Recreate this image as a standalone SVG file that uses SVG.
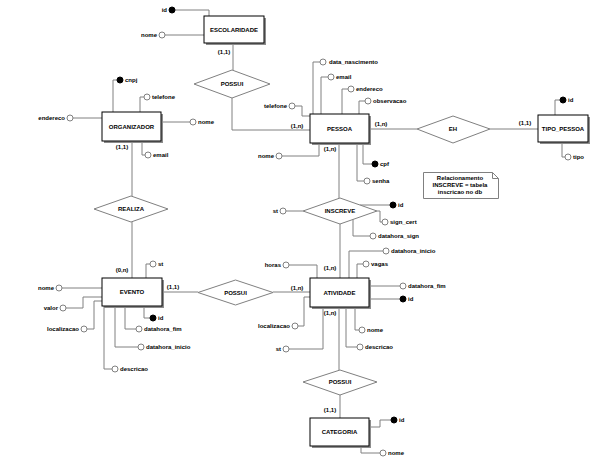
<svg xmlns="http://www.w3.org/2000/svg" width="601" height="458" viewBox="0 0 601 458">
<style>
text{font-family:"Liberation Sans",Arial,sans-serif;font-size:6px;font-weight:bold;fill:#000}
.m{text-anchor:middle}
.e{text-anchor:end}
.c{fill:none;stroke:#808080;stroke-width:1}
.sh{fill:#8c8c8c;stroke:none}
.bx{fill:#fff;stroke:#000;stroke-width:1}
.dm{fill:#fff;stroke:#808080;stroke-width:1}
.o{fill:#fff;stroke:#808080;stroke-width:1}
.f{fill:#000;stroke:#000;stroke-width:1}
</style>
<rect width="601" height="458" fill="#fff"/>
<g id="connectors">
<!-- ESCOLARIDADE -->
<polyline class="c" points="175,10 209,10 209,16"/>
<line class="c" x1="165" y1="35" x2="204" y2="35"/>
<line class="c" x1="233" y1="43" x2="233" y2="70"/>
<polyline class="c" points="232,98 232,130 310,130"/>
<!-- ORGANIZADOR -->
<polyline class="c" points="117,80 113,80 113,112"/>
<polyline class="c" points="144,97 140,97 140,112"/>
<line class="c" x1="73" y1="118" x2="102" y2="118"/>
<line class="c" x1="161" y1="122" x2="190" y2="122"/>
<polyline class="c" points="142,141 142,155 145,155"/>
<line class="c" x1="132" y1="141" x2="132" y2="196"/>
<line class="c" x1="132" y1="222" x2="132" y2="278"/>
<!-- PESSOA -->
<polyline class="c" points="320,62 313,62 313,114"/>
<polyline class="c" points="328,77 321,77 321,114"/>
<polyline class="c" points="348,89 342,89 342,114"/>
<polyline class="c" points="365,101 359,101 359,114"/>
<polyline class="c" points="295,106 302,106 302,116 310,116"/>
<polyline class="c" points="282,156 319,156 319,143"/>
<polyline class="c" points="363,143 363,164 372,164"/>
<polyline class="c" points="357,143 357,181 364,181"/>
<line class="c" x1="369" y1="129" x2="417" y2="129"/>
<line class="c" x1="490" y1="129" x2="538" y2="129"/>
<line class="c" x1="339" y1="143" x2="339" y2="198"/>
<!-- TIPO_PESSOA -->
<polyline class="c" points="560,100 555,100 555,115"/>
<polyline class="c" points="562,142 562,157 565,157"/>
<!-- INSCREVE -->
<line class="c" x1="286" y1="211" x2="303" y2="211"/>
<line class="c" x1="360" y1="205" x2="390" y2="205"/>
<polyline class="c" points="377,211 380,211 380,222 382,222"/>
<polyline class="c" points="353,219 353,236 370,236"/>
<line class="c" x1="340" y1="224" x2="340" y2="278"/>
<!-- ATIVIDADE -->
<polyline class="c" points="383,251 349,251 349,278"/>
<polyline class="c" points="363,264 357,264 357,278"/>
<polyline class="c" points="289,265 317,265 317,278"/>
<line class="c" x1="369" y1="286" x2="400" y2="286"/>
<line class="c" x1="369" y1="299" x2="400" y2="299"/>
<polyline class="c" points="298,326 304,326 304,297 310,297"/>
<polyline class="c" points="289,349 323,349 323,307"/>
<polyline class="c" points="355,307 355,330 359,330"/>
<polyline class="c" points="346,307 346,347 357,347"/>
<line class="c" x1="273" y1="292" x2="310" y2="292"/>
<line class="c" x1="339" y1="307" x2="339" y2="370"/>
<!-- EVENTO -->
<polyline class="c" points="150,264 146,264 146,278"/>
<line class="c" x1="162" y1="292" x2="198" y2="292"/>
<line class="c" x1="62" y1="288" x2="102" y2="288"/>
<polyline class="c" points="66,308 83,308 83,297 102,297"/>
<polyline class="c" points="87,329 94,329 94,301 102,301"/>
<polyline class="c" points="144,306 144,318 150,318"/>
<polyline class="c" points="125,306 125,329 136,329"/>
<polyline class="c" points="115,306 115,347 138,347"/>
<polyline class="c" points="104,306 104,369 112,369"/>
<!-- CATEGORIA -->
<line class="c" x1="340" y1="395" x2="340" y2="418"/>
<polyline class="c" points="369,427 380,427 380,420 391,420"/>
<polyline class="c" points="361,446 361,453 380,453"/>
</g>
<g id="ESCOLARIDADE">
<rect class="sh" x="206" y="18" width="60" height="27"/>
<rect class="bx" x="204" y="16" width="60" height="27"/>
<text class="m" x="234" y="32">ESCOLARIDADE</text>
<circle class="f" cx="172" cy="10" r="3"/><text class="e" x="167" y="12">id</text>
<circle class="o" cx="162" cy="35" r="3"/><text class="e" x="157" y="37">nome</text>
<text class="m" x="224" y="54">(1,1)</text>
</g>
<g id="POSSUI_ESC">
<polygon class="dm" points="194,84 232,70 270,84 232,98"/>
<text class="m" x="232" y="86">POSSUI</text>
</g>
<g id="ORGANIZADOR">
<rect class="sh" x="104" y="114" width="59" height="29"/>
<rect class="bx" x="102" y="112" width="59" height="29"/>
<text class="m" x="131.5" y="128.5">ORGANIZADOR</text>
<circle class="f" cx="120" cy="80" r="3"/><text x="125" y="82">cnpj</text>
<circle class="o" cx="147" cy="97" r="3"/><text x="152" y="99">telefone</text>
<circle class="o" cx="70" cy="118" r="3"/><text class="e" x="65" y="120">endereco</text>
<circle class="o" cx="193" cy="122" r="3"/><text x="198" y="124">nome</text>
<circle class="o" cx="148" cy="155" r="3"/><text x="153" y="157">email</text>
<text class="m" x="122" y="149">(1,1)</text>
</g>
<g id="REALIZA">
<polygon class="dm" points="94,209 131,196 168,209 131,222"/>
<text class="m" x="131" y="211">REALIZA</text>
</g>
<g id="PESSOA">
<rect class="sh" x="312" y="116" width="59" height="29"/>
<rect class="bx" x="310" y="114" width="59" height="29"/>
<text class="m" x="339.5" y="130.5">PESSOA</text>
<circle class="o" cx="323" cy="62" r="3"/><text x="329" y="64">data_nascimento</text>
<circle class="o" cx="331" cy="77" r="3"/><text x="336" y="79">email</text>
<circle class="o" cx="351" cy="89" r="3"/><text x="356" y="91">endereco</text>
<circle class="o" cx="368" cy="101" r="3"/><text x="373" y="103">observacao</text>
<circle class="o" cx="292" cy="106" r="3"/><text class="e" x="287" y="108">telefone</text>
<circle class="o" cx="279" cy="156" r="3"/><text class="e" x="274" y="158">nome</text>
<circle class="f" cx="375" cy="164" r="3"/><text x="380" y="166">cpf</text>
<circle class="o" cx="367" cy="181" r="3"/><text x="372" y="183">senha</text>
<text class="m" x="297" y="128">(1,n)</text>
<text class="m" x="381" y="126">(1,n)</text>
<text class="m" x="330" y="151">(1,n)</text>
</g>
<g id="EH">
<polygon class="dm" points="417,129 453,116 490,129 453,143"/>
<text class="m" x="453" y="131">EH</text>
</g>
<g id="TIPO_PESSOA">
<rect class="sh" x="540" y="117" width="50" height="27"/>
<rect class="bx" x="538" y="115" width="50" height="27"/>
<text class="m" x="563" y="130.5">TIPO_PESSOA</text>
<circle class="f" cx="563" cy="100" r="3"/><text x="568" y="102">id</text>
<circle class="o" cx="568" cy="157" r="3"/><text x="573" y="159">tipo</text>
<text class="m" x="525" y="125">(1,1)</text>
</g>
<g id="NOTA">
<path d="M423.5,172.5 H492.5 L498.5,178.5 V198.5 H423.5 Z" fill="#fff" stroke="#808080"/>
<polyline points="492.5,172.5 492.5,178.5 498.5,178.5" fill="none" stroke="#808080"/>
<text class="m" x="460" y="180">Relacionamento</text>
<text class="m" x="460" y="187">INSCREVE = tabela</text>
<text class="m" x="460" y="194">inscricao no db</text>
</g>
<g id="INSCREVE">
<polygon class="dm" points="303,211 340,198 377,211 340,224"/>
<text class="m" x="340" y="213">INSCREVE</text>
<circle class="o" cx="283" cy="211" r="3"/><text class="e" x="278" y="213">st</text>
<circle class="f" cx="393" cy="205" r="3"/><text x="398" y="207">id</text>
<circle class="o" cx="385" cy="222" r="3"/><text x="390" y="224">sign_cert</text>
<circle class="o" cx="373" cy="236" r="3"/><text x="378" y="238">datahora_sign</text>
</g>
<g id="ATIVIDADE">
<rect class="sh" x="312" y="280" width="59" height="29"/>
<rect class="bx" x="310" y="278" width="59" height="29"/>
<text class="m" x="339.5" y="294.5">ATIVIDADE</text>
<circle class="o" cx="386" cy="251" r="3"/><text x="391" y="253">datahora_inicio</text>
<circle class="o" cx="366" cy="264" r="3"/><text x="371" y="266">vagas</text>
<circle class="o" cx="286" cy="265" r="3"/><text class="e" x="281" y="267">horas</text>
<circle class="o" cx="403" cy="286" r="3"/><text x="408" y="288">datahora_fim</text>
<circle class="f" cx="403" cy="299" r="3"/><text x="408" y="301">id</text>
<circle class="o" cx="295" cy="326" r="3"/><text class="e" x="290" y="328">localizacao</text>
<circle class="o" cx="286" cy="349" r="3"/><text class="e" x="281" y="351">st</text>
<circle class="o" cx="362" cy="330" r="3"/><text x="367" y="332">nome</text>
<circle class="o" cx="360" cy="347" r="3"/><text x="365" y="349">descricao</text>
<text class="m" x="330" y="270">(1,n)</text>
<text class="m" x="297" y="290">(1,n)</text>
<text class="m" x="330" y="315">(1,n)</text>
</g>
<g id="POSSUI_EVT">
<polygon class="dm" points="198,292.5 235.5,280 273,292.5 235.5,305"/>
<text class="m" x="235.5" y="294.5">POSSUI</text>
</g>
<g id="EVENTO">
<rect class="sh" x="104" y="280" width="60" height="28"/>
<rect class="bx" x="102" y="278" width="60" height="28"/>
<text class="m" x="132" y="294">EVENTO</text>
<circle class="o" cx="153" cy="264" r="3"/><text x="158" y="266">st</text>
<circle class="o" cx="59" cy="288" r="3"/><text class="e" x="54" y="290">nome</text>
<circle class="o" cx="63" cy="308" r="3"/><text class="e" x="58" y="310">valor</text>
<circle class="o" cx="84" cy="329" r="3"/><text class="e" x="79" y="331">localizacao</text>
<circle class="f" cx="153" cy="318" r="3"/><text x="158" y="320">id</text>
<circle class="o" cx="139" cy="329" r="3"/><text x="144" y="331">datahora_fim</text>
<circle class="o" cx="141" cy="347" r="3"/><text x="146" y="349">datahora_inicio</text>
<circle class="o" cx="115" cy="369" r="3"/><text x="120" y="371">descricao</text>
<text class="m" x="122" y="272">(0,n)</text>
<text class="m" x="173" y="289">(1,1)</text>
</g>
<g id="POSSUI_CAT">
<polygon class="dm" points="303,382 340,370 377,382 340,395"/>
<text class="m" x="340" y="384">POSSUI</text>
</g>
<g id="CATEGORIA">
<rect class="sh" x="312" y="420" width="59" height="28"/>
<rect class="bx" x="310" y="418" width="59" height="28"/>
<text class="m" x="339.5" y="434">CATEGORIA</text>
<circle class="f" cx="394" cy="420" r="3"/><text x="399" y="422">id</text>
<circle class="o" cx="383" cy="453" r="3"/><text x="388" y="455">nome</text>
<text class="m" x="330" y="412">(1,1)</text>
</g>
</svg>
